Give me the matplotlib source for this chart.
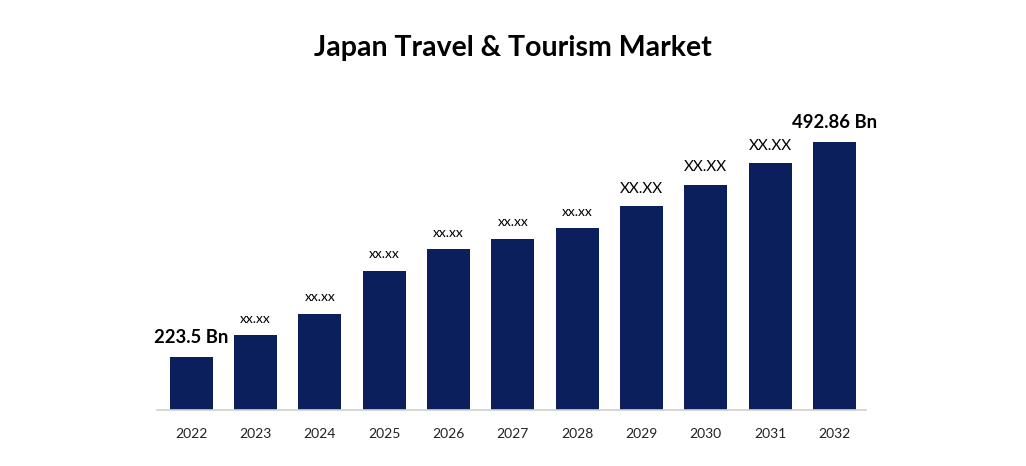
import matplotlib
matplotlib.use("Agg")
import matplotlib.pyplot as plt

years = ["2022", "2023", "2024", "2025", "2026", "2027", "2028", "2029", "2030", "2031", "2032"]
values = [223.5, 250.3, 277.4, 331.2, 358.0, 371.3, 384.7, 412.3, 439.0, 466.2, 492.86]
labels = ["223.5 Bn", "xx.xx", "xx.xx", "xx.xx", "xx.xx", "xx.xx", "xx.xx", "XX.XX", "XX.XX", "XX.XX", "492.86 Bn"]
title = "Japan Travel & Tourism Market"

bar_color = "#0b1f5c"
font = ["Lato", "DejaVu Sans"]
plt.rcParams["font.family"] = font

fig = plt.figure(figsize=(10.26, 4.66), dpi=100)
W, H = 1026, 466
ax = fig.add_axes([157 / W, (H - 410) / H, (866 - 157) / W, (410 - 100) / H])

ymin = 156.72
ymax = ymin + 310 * 1.2528
x = list(range(len(years)))
ax.bar(x, [v - ymin for v in values], bottom=ymin, width=0.67, color=bar_color)
ax.set_ylim(ymin, ymax)
ax.set_xlim(-0.53, 10.49)

for i, (v, lab) in enumerate(zip(values, labels)):
    if "Bn" in lab:
        fs, fw, off = 13.3, "bold", 10
    elif lab.isupper():
        fs, fw, off = 11, "normal", 9.5
    else:
        fs, fw, off = 10, "normal", 9
    ax.annotate(lab, (i, v), xytext=(0, off), textcoords="offset points",
                ha="center", va="baseline", fontsize=fs, fontweight=fw, color="black")

ax.set_xticks(x)
ax.set_xticklabels(years, fontsize=10, color="#222222")
ax.tick_params(axis="x", length=0, pad=13)
ax.set_yticks([])
for s in ["top", "right", "left"]:
    ax.spines[s].set_visible(False)
ax.spines["bottom"].set_color("#d0d0d0")
ax.spines["bottom"].set_linewidth(1.2)

fig.text(513 / W, 1 - 48 / H, title, ha="center", va="center", fontsize=20.5, fontweight="bold", color="black")

fig.savefig("out.png", dpi=100, facecolor="white")
